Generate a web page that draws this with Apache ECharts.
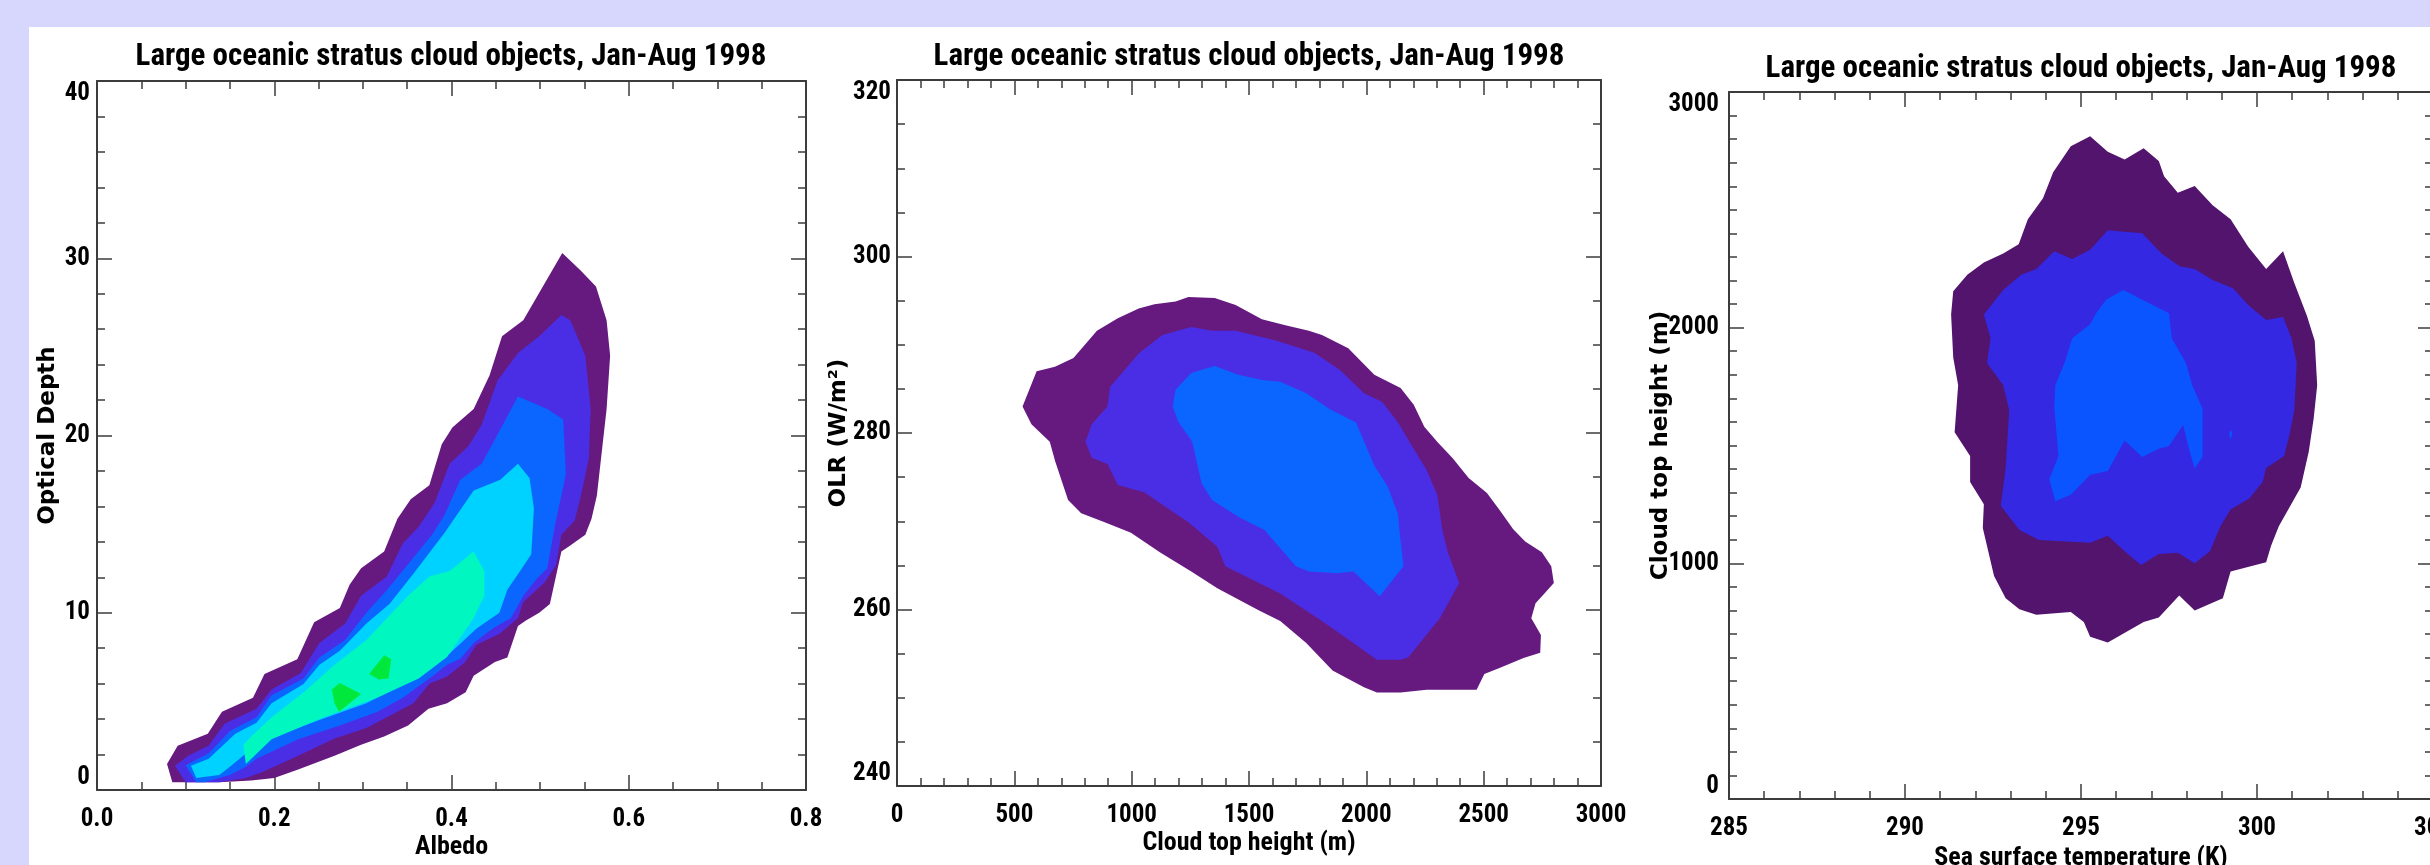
<!DOCTYPE html>
<html>
<head>
<meta charset="utf-8">
<script src="https://cdn.jsdelivr.net/npm/echarts@6/dist/echarts.min.js"></script>
<style>
  html, body { margin: 0; padding: 0; background: #d7d7fd; }
  #chart { width: 2430px; height: 865px; }
</style>
</head>
<body>
<div id="chart"></div>
<script>
// contour outlines, one array per filled level, [x, y] in data units

// panel 1: albedo vs optical depth
const albedoLevel1 = [[0.079,1.46],[0.091,2.49],[0.125,3.18],[0.141,4.42],[0.176,5.2],[0.189,6.54],[0.226,7.38],[0.245,9.46],[0.274,10.27],[0.285,11.58],[0.298,12.51],[0.324,13.45],[0.339,15.3],[0.354,16.4],[0.375,17.2],[0.389,19.5],[0.401,20.45],[0.425,21.5],[0.443,23.4],[0.457,25.6],[0.481,26.5],[0.525,30.3],[0.546,29.3],[0.563,28.4],[0.575,26.5],[0.579,24.5],[0.575,21.5],[0.564,16.6],[0.558,15.3],[0.551,14.4],[0.534,13.8],[0.524,13.45],[0.511,10.5],[0.499,10.0],[0.484,9.56],[0.475,9.25],[0.463,7.47],[0.449,7.22],[0.425,6.44],[0.416,5.51],[0.395,4.89],[0.374,4.58],[0.351,3.64],[0.324,3.02],[0.298,2.55],[0.268,1.93],[0.227,1.15],[0.200,0.68],[0.174,0.53],[0.138,0.44],[0.085,0.44]]
const albedoLevel2 = [[0.088,1.37],[0.103,1.93],[0.126,2.49],[0.144,3.74],[0.180,4.58],[0.197,5.67],[0.230,6.6],[0.251,8.3],[0.280,9.4],[0.298,10.96],[0.327,12.05],[0.345,13.9],[0.363,14.85],[0.381,16.2],[0.398,18.4],[0.419,19.4],[0.434,20.6],[0.452,23.1],[0.475,24.65],[0.499,25.6],[0.524,26.8],[0.534,26.5],[0.551,24.5],[0.557,21.5],[0.555,18.7],[0.546,16.6],[0.539,15.2],[0.524,14.4],[0.518,12.7],[0.505,11.7],[0.481,10.6],[0.475,9.7],[0.454,8.8],[0.428,8.2],[0.415,7.2],[0.395,6.4],[0.375,6.0],[0.357,4.9],[0.327,4.1],[0.304,3.5],[0.268,2.9],[0.227,1.93],[0.186,1.0],[0.168,0.68],[0.138,0.44],[0.100,0.44]]
const albedoLevel3 = [[0.100,1.40],[0.126,2.08],[0.150,3.33],[0.180,4.1],[0.197,5.35],[0.233,6.29],[0.251,7.47],[0.280,8.46],[0.304,10.0],[0.327,11.27],[0.357,13.1],[0.378,14.4],[0.392,15.5],[0.410,17.5],[0.434,18.4],[0.446,19.5],[0.475,22.2],[0.508,21.5],[0.526,20.9],[0.529,17.8],[0.517,15.0],[0.508,12.5],[0.496,11.9],[0.481,10.96],[0.467,9.7],[0.446,9.1],[0.425,8.3],[0.410,7.4],[0.395,7.07],[0.375,6.29],[0.345,5.2],[0.316,4.4],[0.274,3.64],[0.227,2.86],[0.180,1.77],[0.168,1.31],[0.150,0.84],[0.121,0.44],[0.112,0.44]]
const albedoLevel4 = [[0.106,1.37],[0.126,1.77],[0.156,3.18],[0.180,3.8],[0.197,4.89],[0.233,5.98],[0.251,7.07],[0.274,7.85],[0.304,9.4],[0.330,10.5],[0.357,12.2],[0.392,14.5],[0.425,16.9],[0.455,17.5],[0.475,18.4],[0.488,17.6],[0.493,15.9],[0.490,13.3],[0.478,12.4],[0.463,11.3],[0.454,10.0],[0.428,9.1],[0.398,7.7],[0.375,7.07],[0.339,5.8],[0.304,4.9],[0.251,3.95],[0.209,3.18],[0.180,2.55],[0.150,1.31],[0.138,0.84],[0.112,0.68]]
const albedoLevel5 = [[0.165,2.55],[0.174,3.02],[0.197,4.1],[0.233,5.5],[0.268,7.07],[0.304,8.46],[0.351,10.96],[0.375,12.05],[0.398,12.36],[0.425,13.45],[0.437,12.36],[0.437,10.96],[0.425,9.7],[0.395,7.5],[0.363,6.29],[0.316,5.2],[0.256,4.1],[0.197,2.86],[0.168,1.46]]
const albedoLevel6a = [[0.265,5.67],[0.274,6.04],[0.298,5.42],[0.273,4.42],[0.268,4.9]]
const albedoLevel6b = [[0.307,6.54],[0.324,7.6],[0.332,7.38],[0.329,6.29],[0.318,6.23]]

// panel 2: cloud top height vs OLR
const olrLevel1 = [[535,283.0],[595,287.0],[673,287.5],[752,288.5],[852,291.6],[941,293.0],[1030,294.1],[1097,294.6],[1187,294.9],[1242,295.4],[1354,295.3],[1443,294.5],[1555,292.9],[1655,292.2],[1755,291.6],[1811,291.1],[1923,289.6],[2034,286.6],[2146,285.1],[2202,283.2],[2247,280.7],[2302,279.0],[2369,277.1],[2436,274.9],[2514,273.2],[2570,271.2],[2626,269.1],[2677,267.7],[2748,266.5],[2788,264.9],[2799,263.0],[2759,261.8],[2721,260.7],[2703,259.0],[2744,257.1],[2741,255.1],[2670,254.5],[2570,253.4],[2503,252.7],[2470,250.9],[2257,250.9],[2146,250.6],[2045,250.6],[1990,251.2],[1856,253.1],[1744,256.2],[1633,258.7],[1543,259.9],[1365,262.4],[1254,264.3],[1120,266.5],[997,268.7],[885,269.9],[785,270.9],[729,272.4],[674,276.8],[651,279.0],[573,281.0]]
const olrLevel2 = [[803,279.0],[830,281.0],[897,283.0],[908,285.2],[1030,289.0],[1131,291.1],[1254,292.0],[1343,291.6],[1443,291.6],[1610,290.5],[1778,289.1],[1889,287.1],[1990,284.5],[2068,283.5],[2135,281.2],[2213,277.7],[2257,275.8],[2302,273.0],[2324,269.0],[2347,266.5],[2396,263.0],[2313,259.0],[2179,254.6],[2146,254.3],[2045,254.3],[1945,256.2],[1811,258.7],[1633,261.8],[1399,264.9],[1365,267.1],[1242,269.9],[1053,273.3],[941,274.1],[897,276.5],[830,277.2]]
const olrLevel3 = [[1175,283.0],[1187,284.9],[1254,286.8],[1354,287.6],[1454,286.6],[1555,286.0],[1633,285.8],[1744,284.5],[1845,282.7],[1956,281.2],[2034,276.3],[2090,274.0],[2135,270.8],[2142,268.7],[2158,264.9],[2057,261.5],[1945,264.3],[1878,264.1],[1756,264.3],[1700,264.9],[1566,269.0],[1454,270.5],[1343,272.4],[1298,274.3],[1258,279.0],[1198,281.3]]

// panel 3: sea surface temperature vs cloud top height
const sstLevel1 = [[291.37,2155],[291.77,2225],[292.24,2277],[292.79,2315],[293.23,2354],[293.49,2460],[293.92,2549],[294.21,2660],[294.71,2770],[295.26,2812],[295.76,2746],[296.24,2714],[296.78,2761],[297.21,2707],[297.36,2643],[297.75,2573],[298.23,2601],[298.74,2519],[299.25,2460],[299.75,2343],[300.26,2249],[300.74,2324],[301.06,2190],[301.42,2049],[301.64,1944],[301.71,1756],[301.61,1615],[301.47,1474],[301.24,1322],[300.62,1157],[300.40,1075],[300.26,1005],[299.25,965],[299.03,852],[298.23,800],[297.79,864],[297.21,770],[296.78,751],[295.76,664],[295.26,688],[295.08,751],[294.71,793],[293.73,782],[293.25,805],[292.86,852],[292.53,946],[292.21,1150],[292.24,1251],[291.85,1345],[291.85,1455],[291.41,1556],[291.51,1756],[291.37,1873],[291.31,2056]]
const sstLevel2 = [[292.24,2056],[292.79,2160],[293.30,2225],[293.73,2249],[294.24,2324],[294.75,2291],[295.26,2331],[295.76,2413],[296.74,2401],[297.29,2315],[297.80,2261],[298.23,2249],[298.74,2202],[299.32,2167],[299.75,2096],[300.26,2033],[300.74,2045],[300.98,1955],[301.13,1850],[301.06,1650],[300.92,1545],[300.77,1455],[300.26,1404],[300.16,1345],[299.78,1275],[299.25,1228],[298.96,1157],[298.67,1052],[298.23,1000],[297.75,1045],[297.21,1040],[296.71,993],[296.27,1047],[295.76,1117],[295.26,1087],[293.81,1099],[293.25,1141],[292.72,1244],[292.86,1404],[292.96,1650],[292.79,1756],[292.33,1850],[292.43,1955]]
const sstLevel3 = [[295.72,2120],[296.20,2160],[297.50,2061],[297.58,1955],[297.98,1850],[298.16,1756],[298.45,1657],[298.45,1451],[298.23,1404],[298.09,1474],[297.90,1587],[297.50,1498],[297.21,1486],[296.74,1451],[296.24,1521],[295.76,1392],[295.26,1376],[294.71,1291],[294.27,1263],[294.10,1357],[294.36,1455],[294.24,1662],[294.27,1756],[294.56,1862],[294.75,1955],[295.26,2014],[295.43,2061]]
const sstLevel3b = [[299.24,1568],[299.30,1550],[299.25,1526],[299.21,1545]]

const panelTitle = 'Large oceanic stratus cloud objects, Jan-Aug 1998'

const NARROW = "'Roboto Condensed', 'Open Sans Condensed', sans-serif"
const WIDE = "'DejaVu Sans', 'Liberation Sans', sans-serif"
const axisColor = '#3c3c3c'

function axisBase(gridIndex, min, max, interval, minor) {
  return {
    type: 'value', gridIndex, min, max, interval,
    axisLine: { show: true, onZero: false, lineStyle: { color: axisColor, width: 2 } },
    axisTick: { show: true, inside: true, length: 15, lineStyle: { color: axisColor, width: 1.5 } },
    minorTick: { show: true, splitNumber: minor, length: 8, lineStyle: { color: axisColor, width: 1.5 } },
    splitLine: { show: false },
    minorSplitLine: { show: false }
  }
}

function xAxes(gridIndex, min, max, interval, minor, fmt, name, nameGap) {
  const base = axisBase(gridIndex, min, max, interval, minor)
  return [
    Object.assign({}, base, {
      position: 'bottom',
      name, nameLocation: 'middle', nameGap, nameMoveOverlap: false,
      nameTextStyle: { fontFamily: NARROW, fontWeight: 'bold', fontSize: 26, color: '#000' },
      axisLabel: { fontFamily: NARROW, fontWeight: 'bold', fontSize: 25, color: '#000', margin: 17, formatter: fmt }
    }),
    Object.assign({}, base, { position: 'top', axisLabel: { show: false } })
  ]
}

function yAxes(gridIndex, min, max, interval, minor, name, nameGap, labelMargin) {
  const base = axisBase(gridIndex, min, max, interval, minor)
  return [
    Object.assign({}, base, {
      position: 'left',
      name, nameLocation: 'middle', nameGap, nameMoveOverlap: false,
      nameTextStyle: { fontFamily: WIDE, fontWeight: 'bold', fontSize: 23, color: '#000' },
      axisLabel: {
        fontFamily: NARROW, fontWeight: 'bold', fontSize: 25, color: '#000', margin: labelMargin,
        formatter: v => String(v),
        verticalAlignMinLabel: 'bottom', verticalAlignMaxLabel: 'top'
      }
    }),
    Object.assign({}, base, { position: 'right', axisLabel: { show: false } })
  ]
}

function contour(axisIndex, polys, colors) {
  return {
    type: 'custom',
    coordinateSystem: 'cartesian2d',
    xAxisIndex: axisIndex,
    yAxisIndex: axisIndex,
    silent: true,
    animation: false,
    data: polys.map((p, i) => [p[0][0], p[0][1], i]),
    encode: { x: 0, y: 1 },
    renderItem(params, api) {
      const i = params.dataIndex
      const points = polys[i].map(v => api.coord(v))
      return { type: 'polygon', shape: { points }, style: { fill: colors[i] } }
    }
  }
}

function title(x, top) {
  return {
    text: panelTitle, left: x, top, textAlign: 'center', padding: 0,
    textStyle: { fontFamily: NARROW, fontWeight: 'bold', fontSize: 31, color: '#000' }
  }
}

const chart = echarts.init(document.getElementById('chart'))

chart.setOption({
  backgroundColor: '#d7d7fd',
  animation: false,
  graphic: [{
    type: 'rect', z: -10, silent: true,
    shape: { x: 29, y: 27, width: 2401, height: 838 },
    style: { fill: '#ffffff' }
  }],
  title: [title(451, 42), title(1249, 42), title(2081, 54)],
  grid: [
    { left: 97, top: 81, width: 709, height: 709, outerBoundsMode: 'none' },
    { left: 897, top: 80, width: 704, height: 706, outerBoundsMode: 'none' },
    { left: 1729, top: 92, width: 704, height: 707, outerBoundsMode: 'none' }
  ],
  xAxis: [
    ...xAxes(0, 0, 0.8, 0.2, 4, v => v.toFixed(1), 'Albedo', 44),
    ...xAxes(1, 0, 3000, 500, 5, v => String(v), 'Cloud top height (m)', 44),
    ...xAxes(2, 285, 305, 5, 5, v => String(v), 'Sea surface temperature (K)', 46)
  ],
  yAxis: [
    ...yAxes(0, 0, 40, 10, 5, 'Optical Depth', 37, 7),
    ...yAxes(1, 240, 320, 20, 4, 'OLR (W/m²)', 46, 6),
    ...yAxes(2, 0, 3000, 1000, 10, 'Cloud top height (m)', 56, 10)
  ],
  series: [
    contour(0,
      [albedoLevel1, albedoLevel2, albedoLevel3, albedoLevel4, albedoLevel5, albedoLevel6a, albedoLevel6b],
      ['#661a80', '#4a2ee6', '#0a66ff', '#00d2ff', '#00f7c0', '#00e83c', '#00e83c']),
    contour(2,
      [olrLevel1, olrLevel2, olrLevel3],
      ['#661a80', '#4a2ee6', '#0a66ff']),
    contour(4,
      [sstLevel1, sstLevel2, sstLevel3, sstLevel3b],
      ['#52146c', '#3428e2', '#0a55ff', '#0a55ff'])
  ]
})
</script>
</body>
</html>
